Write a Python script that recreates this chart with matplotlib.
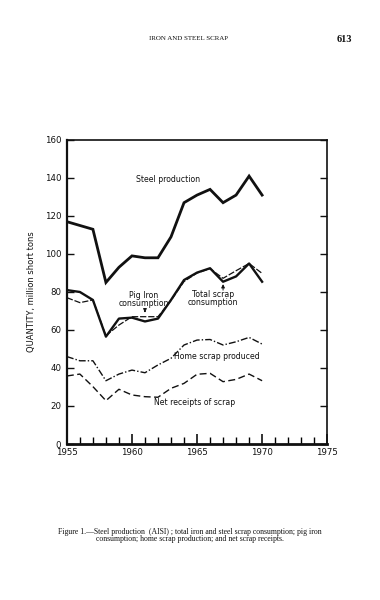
import matplotlib
matplotlib.use("Agg")
import matplotlib.pyplot as plt

years = list(range(1955, 1971))
steel_production = [117, 115, 113, 85, 93, 99, 98, 98, 109, 127, 131, 134, 127, 131, 141, 131]
total_scrap = [81, 80, 75.8, 56.5, 66, 66.5, 64.5, 66, 75.8, 86.3, 90.2, 92.5, 85.4, 88.2, 95, 85.4]
pig_iron = [77, 74.4, 75.8, 57, 62.6, 67, 67, 67, 75.5, 85.5, 90, 92.3, 87.2, 91.2, 95, 89.8]
home_scrap = [46, 43.8, 43.8, 33.3, 36.8, 38.9, 37.5, 41.6, 45.1, 52.1, 54.7, 55, 52.1, 53.8, 56.1, 52.6]
net_receipts = [35.8, 36.8, 30.2, 22.8, 28.8, 25.8, 24.9, 24.6, 29.3, 31.9, 36.7, 37.2, 32.8, 34, 36.8, 33.3]

y_ticks = [0, 20, 40, 60, 80, 100, 120, 140, 160]
x_major = [1955, 1960, 1965, 1970, 1975]

fig = plt.figure(figsize=(3.8, 6.0), dpi=100)
fig.patch.set_facecolor("white")
ax = fig.add_axes([0.176, 0.26, 0.685, 0.5067])

ink = "#111111"
ax.plot(years, steel_production, color=ink, lw=2.0, solid_joinstyle="miter")
ax.plot(years, total_scrap, color=ink, lw=1.7)
ax.plot(years, pig_iron, color=ink, lw=0.9, linestyle=(0, (5, 1.5)))
ax.plot(years, home_scrap, color=ink, lw=1.0, linestyle=(0, (5, 1.5, 1, 1.5)))
ax.plot(years, net_receipts, color=ink, lw=1.0, linestyle=(0, (5, 2.5)))

ax.set_xlim(1955, 1975)
ax.set_ylim(0, 160)
ax.set_yticks(y_ticks)
ax.set_yticklabels([str(v) for v in y_ticks], fontsize=6.2, fontfamily="DejaVu Sans")
ax.set_xticks(x_major)
ax.set_xticklabels([str(v) for v in x_major], fontsize=6.2, fontfamily="DejaVu Sans")
ax.set_xticks(list(range(1955, 1976)), minor=True)
ax.tick_params(axis="x", which="major", direction="in", length=7, width=1.2, pad=3, colors=ink)
ax.tick_params(axis="x", which="minor", direction="in", length=5, width=1.0)
ax.tick_params(axis="y", which="major", direction="in", length=5, width=1.0, right=True, pad=4, colors=ink)

for side, w in [("left", 1.6), ("bottom", 2.0), ("right", 1.2), ("top", 1.2)]:
    ax.spines[side].set_linewidth(w)
    ax.spines[side].set_color(ink)

ax.set_ylabel("QUANTITY, million short tons", fontsize=6, labelpad=6, color=ink)

tk = dict(fontsize=5.6, color=ink, ha="center", va="center")
ax.text(1962.8, 139, "Steel production", **tk)
ax.text(1960.9, 76, "Pig Iron\nconsumption", linespacing=0.95, **tk)
ax.annotate("", xy=(1961.0, 67.8), xytext=(1961.0, 71.5),
            arrowprops=dict(arrowstyle="-|>", color=ink, lw=0.7, mutation_scale=5))
ax.text(1966.2, 76.5, "Total scrap\nconsumption", linespacing=0.95, **tk)
ax.annotate("", xy=(1967.0, 85.6), xytext=(1967.0, 79.5),
            arrowprops=dict(arrowstyle="-|>", color=ink, lw=0.7, mutation_scale=5))
ax.text(1966.5, 46.3, "Home scrap produced", **tk)
ax.text(1964.8, 22, "Net receipts of scrap", **tk)

fig.text(0.495, 0.935, "IRON AND STEEL SCRAP", fontsize=5, family="Liberation Serif",
         ha="center", va="center", color=ink)
fig.text(0.905, 0.935, "613", fontsize=7.5, family="Liberation Serif", fontweight="bold",
         ha="center", va="center", color=ink)
fig.text(0.5, 0.108,
         "Figure 1.\u2014Steel production  (AISI) ; total iron and steel scrap consumption; pig iron\n"
         "consumption; home scrap production; and net scrap receipts.",
         fontsize=5.6, family="Liberation Serif", ha="center", va="center", color=ink,
         linespacing=0.9)

fig.savefig("out.png", dpi=100, facecolor="white")
